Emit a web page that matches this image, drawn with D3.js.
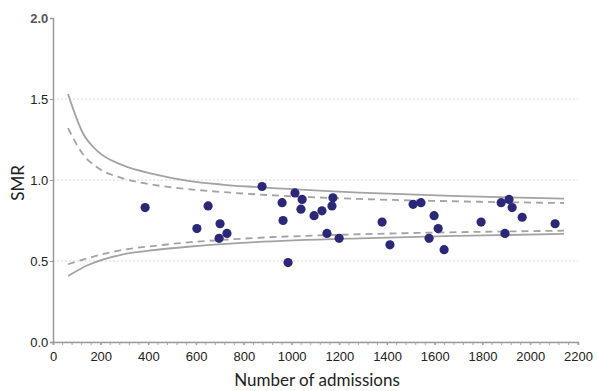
<!DOCTYPE html>
<html>
<head>
<meta charset="utf-8">
<script src="https://cdn.jsdelivr.net/npm/d3@7"></script>
<style>
  body { margin: 0; background: #fff; }
  svg { display: block; font-family: Lato, "Open Sans", sans-serif; }
</style>
</head>
<body>
<svg id="chart" width="597" height="391"></svg>
<script>
// hospital points: admissions vs SMR
const admissions = [386, 603, 650, 700, 729, 696, 876, 960, 964, 985, 1014, 1044, 1039, 1094, 1127,
  1173, 1169, 1148, 1199, 1379, 1412, 1509, 1542, 1597, 1614, 1576, 1639, 1794, 1878, 1911, 1924,
  1894, 1966, 2104];
const smr = [0.83, 0.70, 0.84, 0.73, 0.67, 0.64, 0.96, 0.86, 0.75, 0.49, 0.92, 0.88, 0.82, 0.78, 0.81,
  0.89, 0.84, 0.67, 0.64, 0.74, 0.60, 0.85, 0.86, 0.78, 0.70, 0.64, 0.57, 0.74, 0.86, 0.88, 0.83,
  0.67, 0.77, 0.73];

// control limits
const upperN = [63, 125, 189, 289, 427, 566, 708, 846, 1284, 1700, 2141];
const upperOuter = [1.53, 1.29, 1.175, 1.093, 1.035, 0.995, 0.972, 0.957, 0.922, 0.90, 0.885];
const upperInner = [1.32, 1.16, 1.074, 1.012, 0.969, 0.944, 0.926, 0.912, 0.883, 0.868, 0.858];
const lowerN = [63, 147, 289, 427, 566, 708, 846, 1284, 1700, 2141];
const lowerInner = [0.48, 0.518, 0.568, 0.594, 0.615, 0.63, 0.642, 0.665, 0.678, 0.687];
const lowerOuter = [0.407, 0.475, 0.54, 0.568, 0.588, 0.604, 0.616, 0.64, 0.655, 0.667];

const yTicks = [0, 0.5, 1.0, 1.5, 2.0];
const xTicks = [0, 200, 400, 600, 800, 1000, 1200, 1400, 1600, 1800, 2000, 2200];

const svg = d3.select('#chart');
const margin = { top: 18, right: 19, bottom: 49, left: 53 };
const width = 597, height = 391;

const x = d3.scaleLinear().domain([0, 2200]).range([margin.left, width - margin.right]);
const y = d3.scaleLinear().domain([0, 2]).range([height - margin.bottom, margin.top]);

// dotted gridlines
svg.append('g')
  .selectAll('line')
  .data(yTicks.slice(0, 4))
  .enter()
  .append('line')
  .attr('x1', x(0))
  .attr('x2', x(2200))
  .attr('y1', d => y(d))
  .attr('y2', d => y(d))
  .attr('stroke', '#d6d6d6')
  .attr('stroke-width', 1)
  .attr('stroke-dasharray', '2,2');

// minor ticks on x axis
svg.append('g')
  .selectAll('line')
  .data(d3.range(0, 2201, 40))
  .enter()
  .append('line')
  .attr('x1', d => x(d))
  .attr('x2', d => x(d))
  .attr('y1', y(0))
  .attr('y2', y(0) + 3)
  .attr('stroke', '#aaa');

// axes
const xAxis = d3.axisBottom(x).tickValues(xTicks).tickSize(3).tickFormat(d3.format('d'));
const gx = svg.append('g')
  .attr('transform', `translate(0, ${y(0)})`)
  .call(xAxis);
gx.select('.domain').attr('stroke', '#9a9a9a').attr('stroke-width', 1.5);
gx.selectAll('.tick line').attr('stroke', '#9a9a9a');
gx.selectAll('text').attr('font-size', 13).attr('fill', '#222').attr('dy', '1.0em');

const yAxis = d3.axisLeft(y).tickValues(yTicks).tickSize(3).tickFormat(d3.format('.1f'));
const gy = svg.append('g')
  .attr('transform', `translate(${x(0)}, 0)`)
  .call(yAxis);
gy.select('.domain').attr('stroke', '#9a9a9a').attr('stroke-width', 1.5);
gy.selectAll('.tick line').attr('stroke', '#9a9a9a');
gy.selectAll('text').attr('font-size', 13).attr('fill', '#222').attr('dx', '0.1em');
gy.selectAll('text').filter(d => d === 2).attr('font-weight', 'bold').attr('fill', '#555');

// axis labels
svg.append('text')
  .attr('x', 317)
  .attr('y', 386)
  .attr('text-anchor', 'middle')
  .attr('font-size', 17)
  .attr('fill', '#222')
  .text('Number of admissions');

svg.append('text')
  .attr('x', -183)
  .attr('y', 24)
  .attr('text-anchor', 'middle')
  .attr('transform', 'rotate(-90)')
  .attr('font-size', 17)
  .attr('fill', '#222')
  .text('SMR');

// funnel limits
const limitLine = (ns, vals) => d3.line()
  .x((d, i) => x(ns[i]))
  .y(d => y(d))
  .curve(d3.curveMonotoneX)(vals);

[[upperN, upperOuter], [lowerN, lowerOuter]].forEach(([ns, vals]) => {
  svg.append('path')
    .attr('d', limitLine(ns, vals))
    .attr('fill', 'none')
    .attr('stroke', '#a3a3a3')
    .attr('stroke-width', 1.8)
    .attr('stroke-linejoin', 'round');
});

[[upperN, upperInner], [lowerN, lowerInner]].forEach(([ns, vals]) => {
  svg.append('path')
    .attr('d', limitLine(ns, vals))
    .attr('fill', 'none')
    .attr('stroke', '#a3a3a3')
    .attr('stroke-width', 1.8)
    .attr('stroke-dasharray', '7,5');
});

// hospitals
svg.append('g')
  .selectAll('circle')
  .data(admissions)
  .enter()
  .append('circle')
  .attr('cx', d => x(d))
  .attr('cy', (d, i) => y(smr[i]))
  .attr('r', 4.6)
  .attr('fill', '#2c2878');
</script>
</body>
</html>
